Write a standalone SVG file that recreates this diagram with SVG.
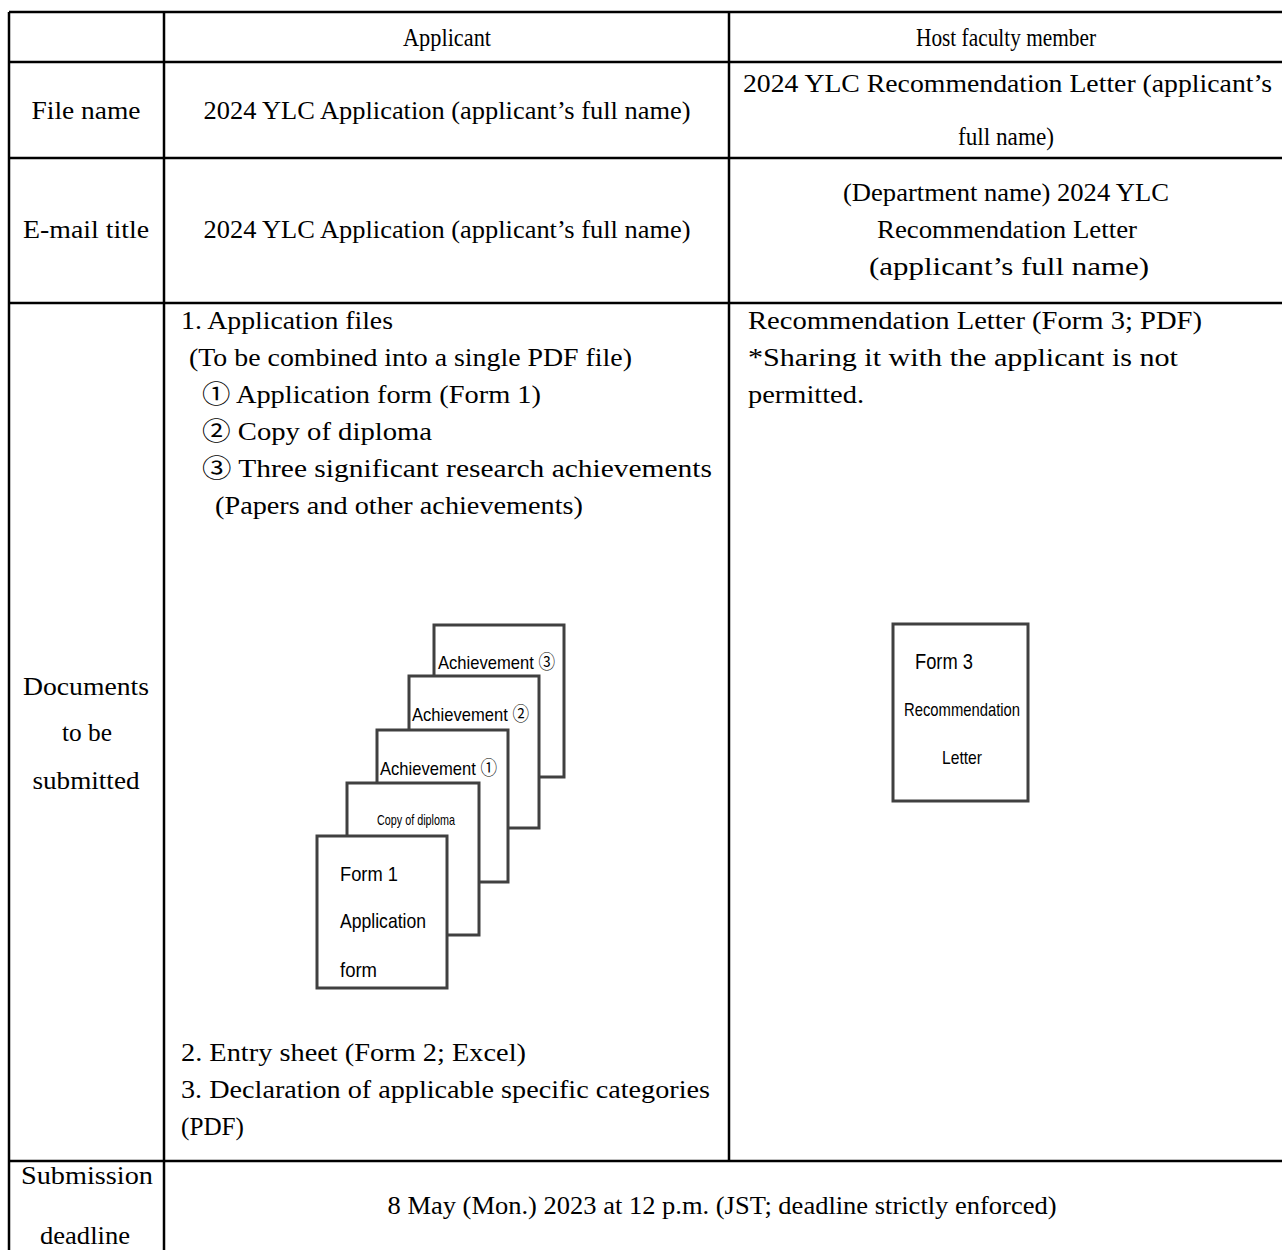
<svg xmlns="http://www.w3.org/2000/svg" width="1282" height="1250" viewBox="0 0 1282 1250">
<style>
.t{font-family:"Liberation Serif","Noto Sans CJK JP",serif;font-size:25px;fill:#000}
.c{text-anchor:middle}
.s{font-family:"Liberation Sans","Noto Sans CJK JP",sans-serif;fill:#000}
.ln{stroke:#000;stroke-width:2.5;fill:none}
.pg{fill:#fff;stroke:#404040;stroke-width:3}
</style>
<rect width="1282" height="1250" fill="#fff"/>
<g id="grid">
<line class="ln" x1="9" y1="12" x2="1282" y2="12"/>
<line class="ln" x1="9" y1="62" x2="1282" y2="62"/>
<line class="ln" x1="9" y1="158" x2="1282" y2="158"/>
<line class="ln" x1="9" y1="303" x2="1282" y2="303"/>
<line class="ln" x1="9" y1="1161" x2="1282" y2="1161"/>
<line class="ln" x1="9" y1="12" x2="9" y2="1250"/>
<line class="ln" x1="164" y1="12" x2="164" y2="1250"/>
<line class="ln" x1="729" y1="12" x2="729" y2="1161"/>
</g>
<g id="header">
<text class="t c" x="447" y="46" textLength="88" lengthAdjust="spacingAndGlyphs">Applicant</text>
<text class="t c" x="1006" y="46" textLength="180" lengthAdjust="spacingAndGlyphs">Host faculty member</text>
</g>
<g id="row-filename">
<text class="t c" x="86" y="119" textLength="109" lengthAdjust="spacingAndGlyphs">File name</text>
<text class="t c" x="447" y="119" textLength="487" lengthAdjust="spacingAndGlyphs">2024 YLC Application (applicant’s full name)</text>
<text class="t" x="743" y="92" textLength="529" lengthAdjust="spacingAndGlyphs">2024 YLC Recommendation Letter (applicant’s</text>
<text class="t c" x="1006" y="145" textLength="96" lengthAdjust="spacingAndGlyphs">full name)</text>
</g>
<g id="row-email">
<text class="t c" x="86" y="238" textLength="126" lengthAdjust="spacingAndGlyphs">E-mail title</text>
<text class="t c" x="447" y="238" textLength="487" lengthAdjust="spacingAndGlyphs">2024 YLC Application (applicant’s full name)</text>
<text class="t c" x="1006" y="201" textLength="326" lengthAdjust="spacingAndGlyphs">(Department name) 2024 YLC</text>
<text class="t c" x="1007" y="238" textLength="260" lengthAdjust="spacingAndGlyphs">Recommendation Letter</text>
<text class="t c" x="1009" y="275" textLength="280" lengthAdjust="spacingAndGlyphs">(applicant’s full name)</text>
</g>
<g id="row-documents">
<text class="t c" x="86" y="695" textLength="126" lengthAdjust="spacingAndGlyphs">Documents</text>
<text class="t c" x="87" y="741" textLength="50" lengthAdjust="spacingAndGlyphs">to be</text>
<text class="t c" x="86" y="789" textLength="107" lengthAdjust="spacingAndGlyphs">submitted</text>
<text class="t" x="181" y="329" textLength="212" lengthAdjust="spacingAndGlyphs">1. Application files</text>
<text class="t" x="189" y="366" textLength="443" lengthAdjust="spacingAndGlyphs">(To be combined into a single PDF file)</text>
<text class="t" x="202" y="403" textLength="339" lengthAdjust="spacingAndGlyphs">① Application form (Form 1)</text>
<text class="t" x="202" y="440" textLength="230" lengthAdjust="spacingAndGlyphs">② Copy of diploma</text>
<text class="t" x="202" y="477" textLength="510" lengthAdjust="spacingAndGlyphs">③ Three significant research achievements</text>
<text class="t" x="215" y="514" textLength="368" lengthAdjust="spacingAndGlyphs">(Papers and other achievements)</text>
<text class="t" x="181" y="1061" textLength="345" lengthAdjust="spacingAndGlyphs">2. Entry sheet (Form 2; Excel)</text>
<text class="t" x="181" y="1098" textLength="529" lengthAdjust="spacingAndGlyphs">3. Declaration of applicable specific categories</text>
<text class="t" x="181" y="1135" textLength="63" lengthAdjust="spacingAndGlyphs">(PDF)</text>
<text class="t" x="748" y="329" textLength="454" lengthAdjust="spacingAndGlyphs">Recommendation Letter (Form 3; PDF)</text>
<text class="t" x="748" y="366" textLength="430" lengthAdjust="spacingAndGlyphs">*Sharing it with the applicant is not</text>
<text class="t" x="748" y="403" textLength="116" lengthAdjust="spacingAndGlyphs">permitted.</text>
</g>
<g id="stack">
<g id="page-ach3"><rect class="pg" x="434" y="625" width="130" height="152"/><text class="s" x="438" y="669" font-size="19" textLength="117" lengthAdjust="spacingAndGlyphs">Achievement ③</text></g>
<g id="page-ach2"><rect class="pg" x="409" y="676" width="130" height="152"/><text class="s" x="412" y="721" font-size="19" textLength="117" lengthAdjust="spacingAndGlyphs">Achievement ②</text></g>
<g id="page-ach1"><rect class="pg" x="377" y="730" width="131" height="152"/><text class="s" x="380" y="775" font-size="19" textLength="117" lengthAdjust="spacingAndGlyphs">Achievement ①</text></g>
<g id="page-diploma"><rect class="pg" x="347" y="783" width="132" height="152"/><text class="s" x="377" y="825" font-size="15" textLength="78" lengthAdjust="spacingAndGlyphs">Copy of diploma</text></g>
<g id="page-form1"><rect class="pg" x="317" y="836" width="130" height="152"/>
<text class="s" x="340" y="881" font-size="21" textLength="58" lengthAdjust="spacingAndGlyphs">Form 1</text>
<text class="s" x="340" y="928" font-size="21" textLength="86" lengthAdjust="spacingAndGlyphs">Application</text>
<text class="s" x="340" y="977" font-size="21" textLength="37" lengthAdjust="spacingAndGlyphs">form</text></g>
</g>
<g id="page-form3"><rect class="pg" x="893" y="624" width="135" height="177"/>
<text class="s" x="915" y="669" font-size="22" textLength="58" lengthAdjust="spacingAndGlyphs">Form 3</text>
<text class="s" x="904" y="716" font-size="19" textLength="116" lengthAdjust="spacingAndGlyphs">Recommendation</text>
<text class="s" x="942" y="764" font-size="19" textLength="40" lengthAdjust="spacingAndGlyphs">Letter</text></g>
<g id="row-deadline">
<text class="t c" x="87" y="1184" textLength="132" lengthAdjust="spacingAndGlyphs">Submission</text>
<text class="t c" x="85" y="1244" textLength="90" lengthAdjust="spacingAndGlyphs">deadline</text>
<text class="t c" x="722" y="1214" textLength="669" lengthAdjust="spacingAndGlyphs">8 May (Mon.) 2023 at 12 p.m. (JST; deadline strictly enforced)</text>
</g>
</svg>
